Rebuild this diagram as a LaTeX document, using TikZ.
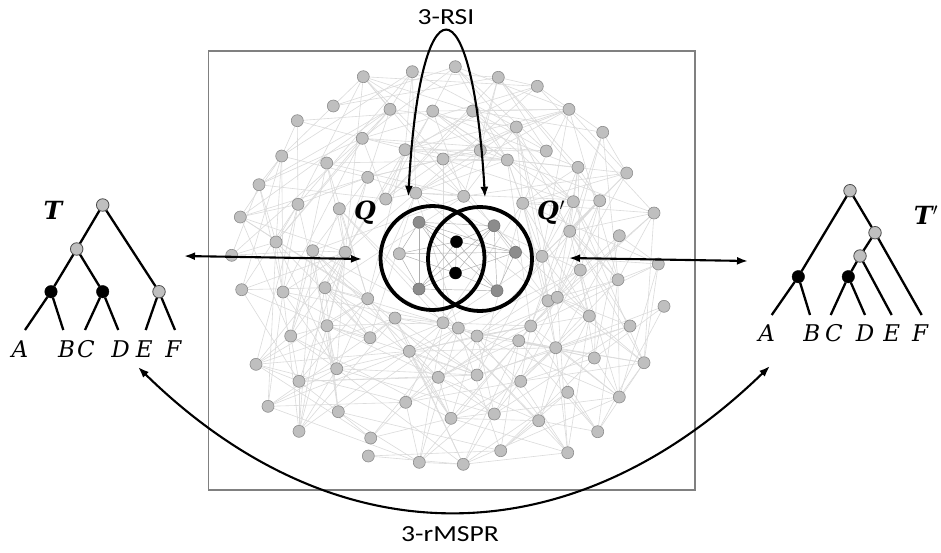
\documentclass[tikz,border=0pt]{standalone}
\usepackage{fontspec}
\usetikzlibrary{arrows.meta}
\newfontfamily\lblfont[FakeStretch=1.2]{Carlito}
\newfontfamily\leaffont{DejaVu Serif}
\pgfdeclarelayer{background}
\pgfsetlayers{background,main}
\newcommand{\myprime}{\kern0.5pt{\fontsize{25}{30}\selectfont$'$}}
\begin{document}
\begin{tikzpicture}[x=1pt,y=-1pt,
  netnode/.style={circle,draw=black!45,fill=black!25,line width=0.6pt,inner sep=0pt,minimum size=12pt},
  darknode/.style={netnode,fill=black!45,draw=black!55},
  blknode/.style={circle,fill=black,draw=black,inner sep=0pt,minimum size=12pt},
  treegray/.style={circle,draw=black!70,fill=black!25,line width=0.8pt,inner sep=0pt,minimum size=12.5pt},
  treeblk/.style={circle,fill=black,draw=black,inner sep=0pt,minimum size=12.5pt},
  netedge/.style={draw=black!14,line width=0.6pt},
  inedge/.style={draw=black!32,line width=0.45pt},
  tedge/.style={line width=2.3pt,draw=black},
  qcirc/.style={circle,draw=black,line width=3.8pt,inner sep=0pt,minimum size=104pt},
  arr/.style={line width=2.1pt,{Latex[length=11pt,width=8pt]}-{Latex[length=11pt,width=8pt]}},
  leaf/.style={inner sep=0pt,font=\leaffont\itshape\fontsize{23}{28}\selectfont},
  big/.style={inner sep=0pt,font=\leaffont\bfseries\itshape\fontsize{25}{30}\selectfont},
  lbl/.style={inner sep=0pt,font=\lblfont\fontsize{23}{27}\selectfont}
]
\useasboundingbox (0,0) rectangle (941,552);
\draw[black!50,line width=1.3pt] (208.3,51) rectangle (695,490);

% network nodes
\foreach \x/\y [count=\i] in {363.3/76.7, 412.3/71.7, 455.3/66.7, 498.3/77.3, 537.3/86.3, 333.3/106, 390/109.3, 432.7/111, 472.7/111, 569/109.3, 297.3/120.7, 516.3/127, 602.7/132.3, 362.3/138.3, 405/149.7, 480.3/150.3, 546.3/151, 281.7/156, 326.7/163, 443/159, 507.3/160, 578/167.3, 626.7/173, 367.7/177.3, 259/184.7, 415.7/193, 463.7/196.3, 385.7/199, 298/204.3, 339.3/208.7, 522.7/203.3, 573.3/201.7, 599.7/200.7, 240.3/217, 654/213, 276/242, 312.7/250.7, 345.3/252.3, 231.7/255.3, 569.7/231.3, 619.3/235.7, 542/256.3, 658.3/264, 580.3/270, 618/279.7, 241.7/289.7, 283/292, 325/287.7, 367.7/298.7, 548/300.7, 557.3/297.3, 664/306.3, 395/318, 443/322.7, 458.3/328, 530.7/326, 589.3/316, 630/326, 327/325.7, 290.7/336, 370/337.7, 477/336, 518.7/340.7, 409.3/351.3, 555.7/347.7, 594.3/358, 644/362.7, 256/364.3, 336.7/368.7, 299/381.3, 438.3/377.3, 477/375, 520.7/381.3, 567.7/392.3, 619.3/397, 268/406.3, 338.3/411.7, 405.7/402.3, 451/418.3, 494.3/414, 538.7/420.7, 597.7/431.7, 299/431.3, 370.7/438, 368.3/456, 419.3/462.3, 463.3/464.3, 500.7/450.7, 567.7/452.7}
  {\node[netnode] (n\i) at (\x,\y) {};}

% inner nodes
\node[darknode] (q1) at (419,222.3) {};
\node[netnode]  (q2) at (399.3,253.7) {};
\node[darknode] (q3) at (419,289) {};
\node[blknode]  (q4) at (456.5,241.7) {};
\node[blknode]  (q5) at (455.5,273) {};
\node[darknode] (q6) at (494,225.7) {};
\node[darknode] (q7) at (515.5,252.3) {};
\node[darknode] (q8) at (497,290.7) {};

\begin{pgfonlayer}{background}
\fill[white] (0,0) rectangle (941,552);
\foreach \i in {1,...,88}{
  \pgfmathtruncatemacro\s{\i+1}
  \foreach \j in {\s,...,89}{
    \pgfpointdiff{\pgfpointanchor{n\i}{center}}{\pgfpointanchor{n\j}{center}}
    \pgfgetlastxy\dx\dy
    \pgfmathtruncatemacro\ok{(veclen(\dx,\dy)<185)&&(mod(\i*\j+\i*3+\j*5,11)<3)}
    \ifnum\ok=1 \draw[netedge] (n\i) -- (n\j);\fi
  }
}
\foreach \a/\b in {1/2,1/3,1/4,1/5,1/6,1/7,2/3,2/4,2/5,2/7,3/4,3/5,3/8,4/5,4/6,4/7,4/8,5/6,5/7,5/8,6/7,6/8,7/8,1/8,3/6}
  {\draw[inedge] (q\a) -- (q\b);}
\end{pgfonlayer}

% Q circles
\node[qcirc] (Q) at (432.5,258) {};
\node[qcirc] (Qp) at (480,259) {};
\node[big] (Qlab) at (365,213) {Q};
\node[big] (Qplab) at (551,213) {Q\myprime};

% tree T
\node[treegray] (tr) at (102.7,205) {};
\node[treegray] (ti) at (76.7,249) {};
\node[treeblk] (tb1) at (51,291.7) {};
\node[treeblk] (tb2) at (102.7,291.7) {};
\node[treegray] (tg) at (159,291.7) {};
\coordinate (ta) at (25,330);
\coordinate (tbb) at (63.3,330);
\coordinate (tc) at (85,330);
\coordinate (td) at (118.3,330);
\coordinate (te) at (145.7,330);
\coordinate (tf) at (175,330);
\draw[tedge] (tr) -- (ti); \draw[tedge] (tr) -- (tg);
\draw[tedge] (ti) -- (tb1); \draw[tedge] (ti) -- (tb2);
\draw[tedge] (tb1) -- (ta); \draw[tedge] (tb1) -- (tbb);
\draw[tedge] (tb2) -- (tc); \draw[tedge] (tb2) -- (td);
\draw[tedge] (tg) -- (te); \draw[tedge] (tg) -- (tf);
\node[leaf] (lA) at (20,349) {A};
\node[leaf] (lB) at (66.7,349) {B};
\node[leaf] (lC) at (86,349) {C};
\node[leaf] (lD) at (120.7,349) {D};
\node[leaf] (lE) at (144.3,349) {E};
\node[leaf] (lF) at (173.3,349) {F};
\node[big] (Tlab) at (53,210) {T};

% tree T'
\node[treegray] (sr) at (850,190.7) {};
\node[treegray] (s2) at (875,232.7) {};
\node[treegray] (s3) at (860,256) {};
\node[treeblk] (sb1) at (798.3,276.7) {};
\node[treeblk] (sb2) at (848.3,276.7) {};
\coordinate (sa) at (771.7,315);
\coordinate (sbb) at (810,315);
\coordinate (sc) at (830.7,315);
\coordinate (sd) at (865,315);
\coordinate (se) at (891.7,315);
\coordinate (sf) at (921.7,315);
\draw[tedge] (sr) -- (sb1); \draw[tedge] (sr) -- (s2);
\draw[tedge] (s2) -- (s3); \draw[tedge] (s2) -- (sf);
\draw[tedge] (s3) -- (sb2); \draw[tedge] (s3) -- (se);
\draw[tedge] (sb1) -- (sa); \draw[tedge] (sb1) -- (sbb);
\draw[tedge] (sb2) -- (sc); \draw[tedge] (sb2) -- (sd);
\node[leaf] (mA) at (766.7,333) {A};
\node[leaf] (mB) at (811.7,333) {B};
\node[leaf] (mC) at (834,333) {C};
\node[leaf] (mD) at (865,333) {D};
\node[leaf] (mE) at (891.7,333) {E};
\node[leaf] (mF) at (920,333) {F};
\node[big] (Tplab) at (926,215) {T\myprime};

% arrows
\coordinate (rsiL) at (408.3,196.7);
\coordinate (rsiR) at (485,197.7);
\draw[arr] (rsiL) .. controls (420,-23) and (472,-23) .. (rsiR);
\node[lbl] (rsi) at (446,17) {3-RSI};

\coordinate (hl1) at (184,256);
\coordinate (hl2) at (362,259);
\draw[arr] (hl1) -- (hl2);
\coordinate (hr1) at (569,258);
\coordinate (hr2) at (748,261);
\draw[arr] (hr1) -- (hr2);

\coordinate (bL) at (138,367);
\coordinate (bR) at (770,366);
\draw[arr] (bL) .. controls (335,560) and (570,560) .. (bR);
\node[lbl] (mspr) at (450,534) {3-rMSPR};
\end{tikzpicture}
\end{document}
